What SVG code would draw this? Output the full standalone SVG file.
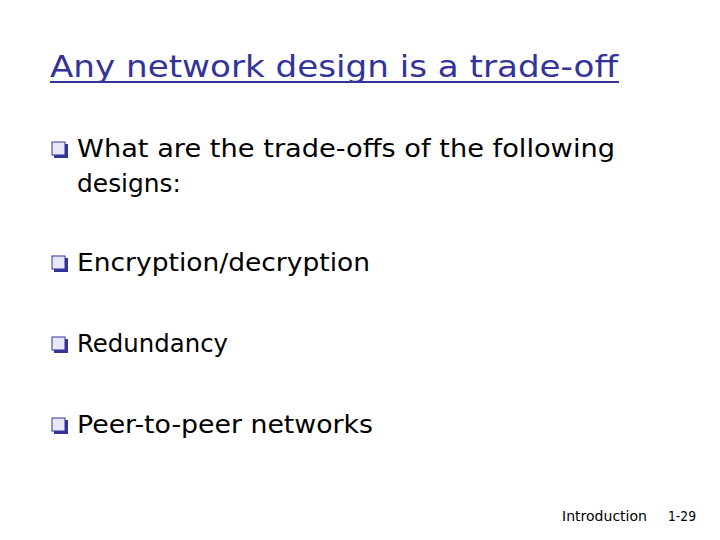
<svg xmlns="http://www.w3.org/2000/svg" width="720" height="540" viewBox="0 0 720 540">
<style>
.t{font-family:"DejaVu Sans",sans-serif;fill:#000}
.b{fill:#e8e8f8;stroke:#333399;stroke-width:1}
.s{fill:#333399}
</style>
<defs>
<g id="bul"><rect class="s" x="2" y="2" width="14" height="14"/><rect class="b" x="0" y="0" width="13" height="13"/></g>
</defs>
<rect width="720" height="540" fill="#fff"/>
<text x="50" y="77" font-family="DejaVu Sans,sans-serif" font-size="31" fill="#333399" textLength="568" lengthAdjust="spacingAndGlyphs">Any network design is a trade-off</text>
<line x1="50" y1="82" x2="619" y2="82" stroke="#333399" stroke-width="2"/>
<use href="#bul" x="52" y="142"/>
<text class="t" x="77" y="157" font-size="25" textLength="538" lengthAdjust="spacingAndGlyphs">What are the trade-offs of the following</text>
<text class="t" x="77" y="192" font-size="25" textLength="104" lengthAdjust="spacingAndGlyphs">designs:</text>
<use href="#bul" x="52" y="256"/>
<text class="t" x="77" y="271" font-size="25" textLength="293" lengthAdjust="spacingAndGlyphs">Encryption/decryption</text>
<use href="#bul" x="52" y="337"/>
<text class="t" x="77" y="352" font-size="25" textLength="151" lengthAdjust="spacingAndGlyphs">Redundancy</text>
<use href="#bul" x="52" y="418"/>
<text class="t" x="77" y="433" font-size="25" textLength="296" lengthAdjust="spacingAndGlyphs">Peer-to-peer networks</text>
<text class="t" x="562" y="521" font-size="14" textLength="85" lengthAdjust="spacingAndGlyphs">Introduction</text>
<text class="t" x="668" y="521" font-size="14" textLength="28" lengthAdjust="spacingAndGlyphs">1-29</text>
</svg>
